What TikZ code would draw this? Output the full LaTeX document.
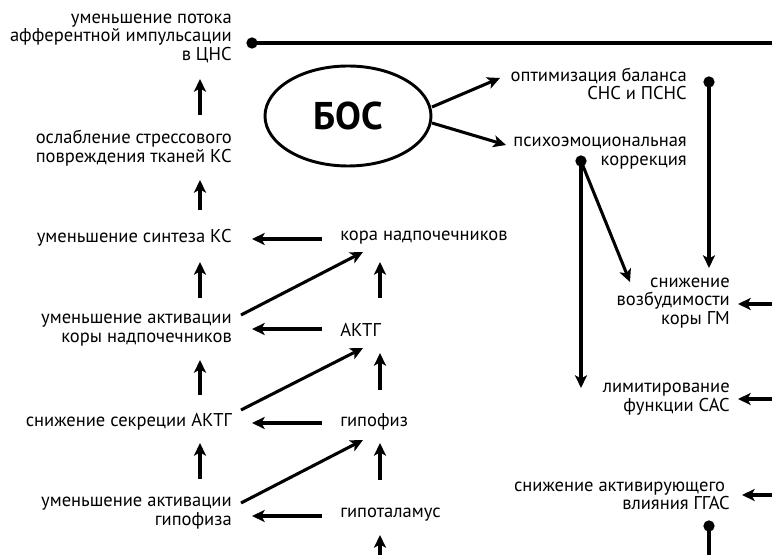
\documentclass[tikz,border=0pt]{standalone}
\usepackage{fontspec}
\setmainfont{PT Sans}
\usetikzlibrary{arrows.meta,shapes.geometric}
\tikzset{
  txt/.style={inner sep=0pt, font=\fontsize{13.9}{13.9}\selectfont},
  lt/.style={txt, anchor=east, align=right},
  mt/.style={txt, anchor=west, align=left},
  arr/.style={line width=2.3pt, -{Stealth[length=9.5pt,width=9pt,inset=2.4pt]}},
  ln/.style={line width=2.3pt},
  dot/.style={circle, fill=black, inner sep=0pt, minimum size=8.5pt},
}
\begin{document}
\begin{tikzpicture}[x=0.75pt,y=-0.75pt]
\useasboundingbox (0,0) rectangle (772,555);
% left column
\node[lt] (n1) at (232,38) {уменьшение потока\\афферентной импульсации\\в ЦНС};
\node[lt] (n2) at (232,148) {ослабление стрессового\\повреждения тканей КС};
\node[lt] (n3) at (232,238) {уменьшение синтеза КС};
\node[lt] (n4) at (232,330) {уменьшение активации\\коры надпочечников};
\node[lt] (n5) at (232,422) {снижение секреции АКТГ};
\node[lt] (n6) at (232,513) {уменьшение активации\\гипофиза};
% middle column
\node[mt] (m1) at (340,238) {кора надпочечников};
\node[mt] (m2) at (340,330) {АКТГ};
\node[mt] (m3) at (340,422) {гипофиз};
\node[mt] (m4) at (340,515) {гипоталамус};
% BOS
\node[draw, ellipse, line width=2.2pt, minimum width=124.5pt, minimum height=75pt, inner sep=0pt] (bos) at (348,116) {};
\node[inner sep=0pt, font=\fontsize{29}{32}\selectfont\bfseries] (bost) at (348,116) {БОС};
% right column
\node[lt] (r1) at (687,84) {оптимизация баланса\\СНС и ПСНС};
\node[lt] (r2) at (687,153) {психоэмоциональная\\коррекция};
\node[lt] (r3) at (730,303) {снижение\\возбудимости\\коры ГМ};
\node[lt] (r4) at (730,399) {лимитирование\\функции САС};
\node[lt] (r5) at (730,496) {снижение активирующего\hspace*{3.5pt}\\влияния ГГАС};
% dots
\node[dot] (d1) at (252,43) {};
\node[dot] (d2) at (709,82) {};
\node[dot] (d3) at (581,161) {};
\node[dot] (d4) at (709,526) {};
% free ends
\coordinate (e1) at (772,43);
\coordinate (e2) at (709,555);
\coordinate (e3) at (772,304);
\coordinate (e4) at (772,399);
\coordinate (e5) at (772,495);
\coordinate (e6) at (380,555);
% connectors
\draw[ln] (d1.center) -- (e1);
\draw[ln] (d4.center) -- (e2);
\draw[arr] (d2.center) -- (709,268) coordinate (t1);
\draw[arr] (d3.center) -- (581,388) coordinate (t2);
\draw[arr] (d3.center) -- (630,282) coordinate (t3);
\draw[arr] (e3) -- (738,304);
\draw[arr] (e4) -- (738,399);
\draw[arr] (e5) -- (742,495);
\draw[arr] (432,107) coordinate (b1) -- (500,78);
\draw[arr] (432,123) coordinate (b2) -- (506,145);
% left vertical arrows
\draw[arr] (200,115) -- (200,79);
\draw[arr] (200,210) -- (200,180);
\draw[arr] (200,298) -- (200,262);
\draw[arr] (200,395) -- (200,360);
\draw[arr] (200,479) -- (200,443);
% middle vertical arrows
\draw[arr] (380,298) -- (380,262);
\draw[arr] (380,390) -- (380,353);
\draw[arr] (380,480) -- (380,443);
\draw[arr] (e6) -- (380,535);
% horizontal arrows
\draw[arr] (322,239) -- (252,239);
\draw[arr] (322,329) -- (252,329);
\draw[arr] (322,423) -- (252,423);
\draw[arr] (322,516) -- (252,516);
% diagonals
\draw[arr] (241,315) -- (363,252);
\draw[arr] (241,410) -- (363,348);
\draw[arr] (241,503) -- (363,440);
\end{tikzpicture}
\end{document}
